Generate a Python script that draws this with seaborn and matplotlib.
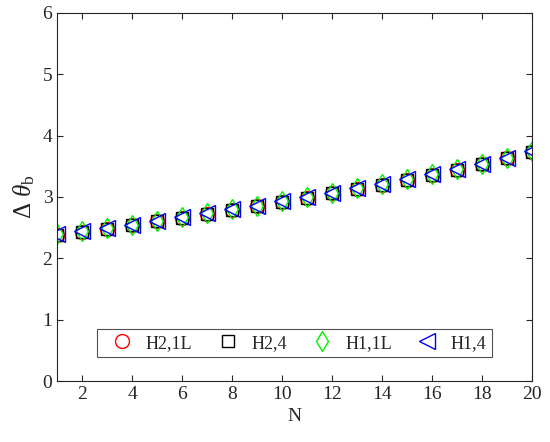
import numpy as np
import pandas as pd
import matplotlib
matplotlib.use("Agg")
import matplotlib.pyplot as plt
import seaborn as sns

# datos
N = list(range(1, 21))
h2_1l = [2.38, 2.43, 2.48, 2.54, 2.60, 2.66, 2.72, 2.79, 2.85, 2.92,
         2.99, 3.06, 3.13, 3.20, 3.28, 3.36, 3.44, 3.53, 3.63, 3.74]
h2_4 = [2.38, 2.43, 2.48, 2.54, 2.60, 2.66, 2.72, 2.79, 2.85, 2.92,
        2.99, 3.06, 3.13, 3.20, 3.28, 3.36, 3.44, 3.53, 3.63, 3.74]
h1_1l = [2.39, 2.44, 2.49, 2.55, 2.61, 2.67, 2.73, 2.80, 2.86, 2.93,
         3.00, 3.07, 3.14, 3.21, 3.29, 3.37, 3.45, 3.54, 3.64, 3.75]
h1_4 = [2.39, 2.44, 2.50, 2.55, 2.61, 2.67, 2.73, 2.80, 2.86, 2.93,
        3.00, 3.07, 3.14, 3.21, 3.29, 3.37, 3.45, 3.54, 3.64, 3.75]

labels = ["H2,1L", "H2,4", "H1,1L", "H1,4"]
series = [h2_1l, h2_4, h1_1l, h1_4]
markers = ["o", "s", "d", "<"]
colors = ["#ff0000", "#000000", "#00f000", "#0000ff"]
sizes = [10, 8, 10, 11]

sns.set_style("ticks")
plt.rcParams["font.family"] = ["Liberation Serif", "DejaVu Serif"]
plt.rcParams["mathtext.fontset"] = "custom"
plt.rcParams["mathtext.rm"] = "Liberation Serif"
plt.rcParams["mathtext.it"] = "Liberation Serif:italic"

fig, ax = plt.subplots(figsize=(5.5, 4.42), dpi=100)
fig.subplots_adjust(left=0.104, right=0.967, top=0.971, bottom=0.138)

for lab, y, m, c, s in zip(labels, series, markers, colors, sizes):
    df = pd.DataFrame({"N": N, "val": y})
    sns.lineplot(data=df, x="N", y="val", ax=ax, marker=m, linestyle="none",
                 markerfacecolor="none", markeredgecolor=c, markeredgewidth=1.0,
                 markersize=s, label=lab)

ax.set_xlim(1, 20)
ax.set_ylim(0, 6)
ax.set_xticks(range(2, 21, 2))
ax.set_yticks(range(0, 7))
ax.tick_params(direction="in", top=True, right=True, labelsize=14,
               colors="#262626", length=4)
for sp in ax.spines.values():
    sp.set_visible(True)
    sp.set_color("#262626")
    sp.set_linewidth(0.8)
ax.set_xlabel("N", fontsize=14)
ax.set_ylabel(r"$\Delta\ \theta_{\rm b}$", fontsize=18)

leg = ax.legend(loc="lower center", bbox_to_anchor=(0.5, 0.065), ncol=4,
                fontsize=13, frameon=True, fancybox=False, edgecolor="#262626",
                handlelength=2.2, handletextpad=0.2, columnspacing=0.85,
                borderpad=0.3, borderaxespad=0)
leg.get_frame().set_linewidth(0.8)

fig.savefig("out.png", dpi=100)
